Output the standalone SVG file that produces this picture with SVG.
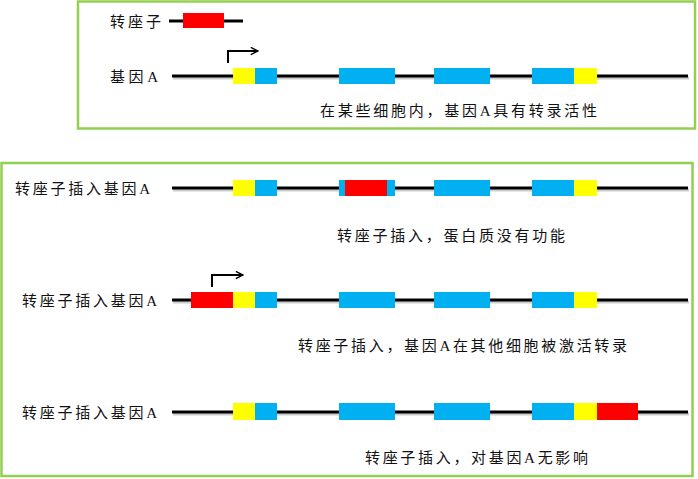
<svg xmlns="http://www.w3.org/2000/svg" width="698" height="479" viewBox="0 0 698 479">
<style>
.box{fill:#fff;stroke:#92D050;stroke-width:2.5}
.dna{stroke:#000;stroke-width:3;fill:none}
.sh{stroke:#999;stroke-width:3;fill:none;opacity:0.5}
.y{fill:#FFFF00}
.b{fill:#00B0F0}
.r{fill:#FF0000}
.t{font-family:"Liberation Serif","Noto Sans CJK SC",serif;font-size:15px;fill:#111}
.pr{stroke:#000;stroke-width:2;fill:none}
</style>
<defs>
<marker id="ah" viewBox="0 0 10 10" refX="9" refY="5" markerWidth="9" markerHeight="9" orient="auto" markerUnits="userSpaceOnUse">
<path d="M1,1 L9,5 L1,9" fill="none" stroke="#000" stroke-width="1.6"/>
</marker>
</defs>
<rect class="box" x="78" y="1.5" width="617" height="127"/>
<rect class="box" x="1.5" y="163" width="691" height="313"/>

<g id="transposon">
<text class="t" x="110" y="27" textLength="51" lengthAdjust="spacing">转座子</text>
<line class="dna" x1="169" y1="21" x2="243" y2="21"/>
<rect class="r" x="183" y="13" width="41" height="15"/>
</g>

<g id="geneA">
<text class="t" x="110" y="82" textLength="48" lengthAdjust="spacing">基因A</text>
<line class="sh" x1="173" y1="78" x2="689" y2="78"/>
<line class="dna" x1="172" y1="76" x2="688" y2="76"/>
<rect class="y" x="233" y="68" width="22" height="16"/>
<rect class="b" x="255" y="68" width="22" height="16"/>
<rect class="b" x="339" y="68" width="56" height="16"/>
<rect class="b" x="434" y="68" width="56" height="16"/>
<rect class="b" x="532" y="68" width="42" height="16"/>
<rect class="y" x="574" y="68" width="23" height="16"/>
<text class="t" x="320" y="116" textLength="277" lengthAdjust="spacing">在某些细胞内，基因A具有转录活性</text>
</g>

<g id="row1">
<text class="t" x="15" y="194" textLength="135" lengthAdjust="spacing">转座子插入基因A</text>
<line class="sh" x1="173" y1="190" x2="689" y2="190"/>
<line class="dna" x1="172" y1="188" x2="688" y2="188"/>
<rect class="y" x="233" y="180" width="22" height="16"/>
<rect class="b" x="255" y="180" width="22" height="16"/>
<rect class="b" x="339" y="180" width="56" height="16"/>
<rect class="r" x="345" y="180" width="42" height="16"/>
<rect class="b" x="434" y="180" width="56" height="16"/>
<rect class="b" x="532" y="180" width="42" height="16"/>
<rect class="y" x="574" y="180" width="23" height="16"/>
<text class="t" x="337" y="241" textLength="228" lengthAdjust="spacing">转座子插入，蛋白质没有功能</text>
</g>

<g id="row2">
<text class="t" x="22" y="306" textLength="135" lengthAdjust="spacing">转座子插入基因A</text>
<line class="sh" x1="173" y1="302" x2="689" y2="302"/>
<line class="dna" x1="172" y1="300" x2="688" y2="300"/>
<rect class="r" x="191" y="292" width="42" height="16"/>
<rect class="y" x="233" y="292" width="22" height="16"/>
<rect class="b" x="255" y="292" width="22" height="16"/>
<rect class="b" x="339" y="292" width="56" height="16"/>
<rect class="b" x="434" y="292" width="56" height="16"/>
<rect class="b" x="532" y="292" width="42" height="16"/>
<rect class="y" x="574" y="292" width="23" height="16"/>
<text class="t" x="298" y="351" textLength="329" lengthAdjust="spacing">转座子插入，基因A在其他细胞被激活转录</text>
</g>

<g id="row3">
<text class="t" x="22" y="418" textLength="135" lengthAdjust="spacing">转座子插入基因A</text>
<line class="sh" x1="173" y1="414" x2="689" y2="414"/>
<line class="dna" x1="172" y1="412" x2="688" y2="412"/>
<rect class="y" x="233" y="403" width="22" height="17"/>
<rect class="b" x="255" y="403" width="22" height="17"/>
<rect class="b" x="339" y="403" width="56" height="17"/>
<rect class="b" x="434" y="403" width="56" height="17"/>
<rect class="b" x="532" y="403" width="42" height="17"/>
<rect class="y" x="574" y="403" width="23" height="17"/>
<rect class="r" x="597" y="403" width="41" height="17"/>
<text class="t" x="365" y="463" textLength="223" lengthAdjust="spacing">转座子插入，对基因A无影响</text>
</g>

<g id="connectors">
<path class="pr" d="M228,63 V51 H258" marker-end="url(#ah)"/>
<path class="pr" d="M212,287 V275 H243" marker-end="url(#ah)"/>
</g>
</svg>
